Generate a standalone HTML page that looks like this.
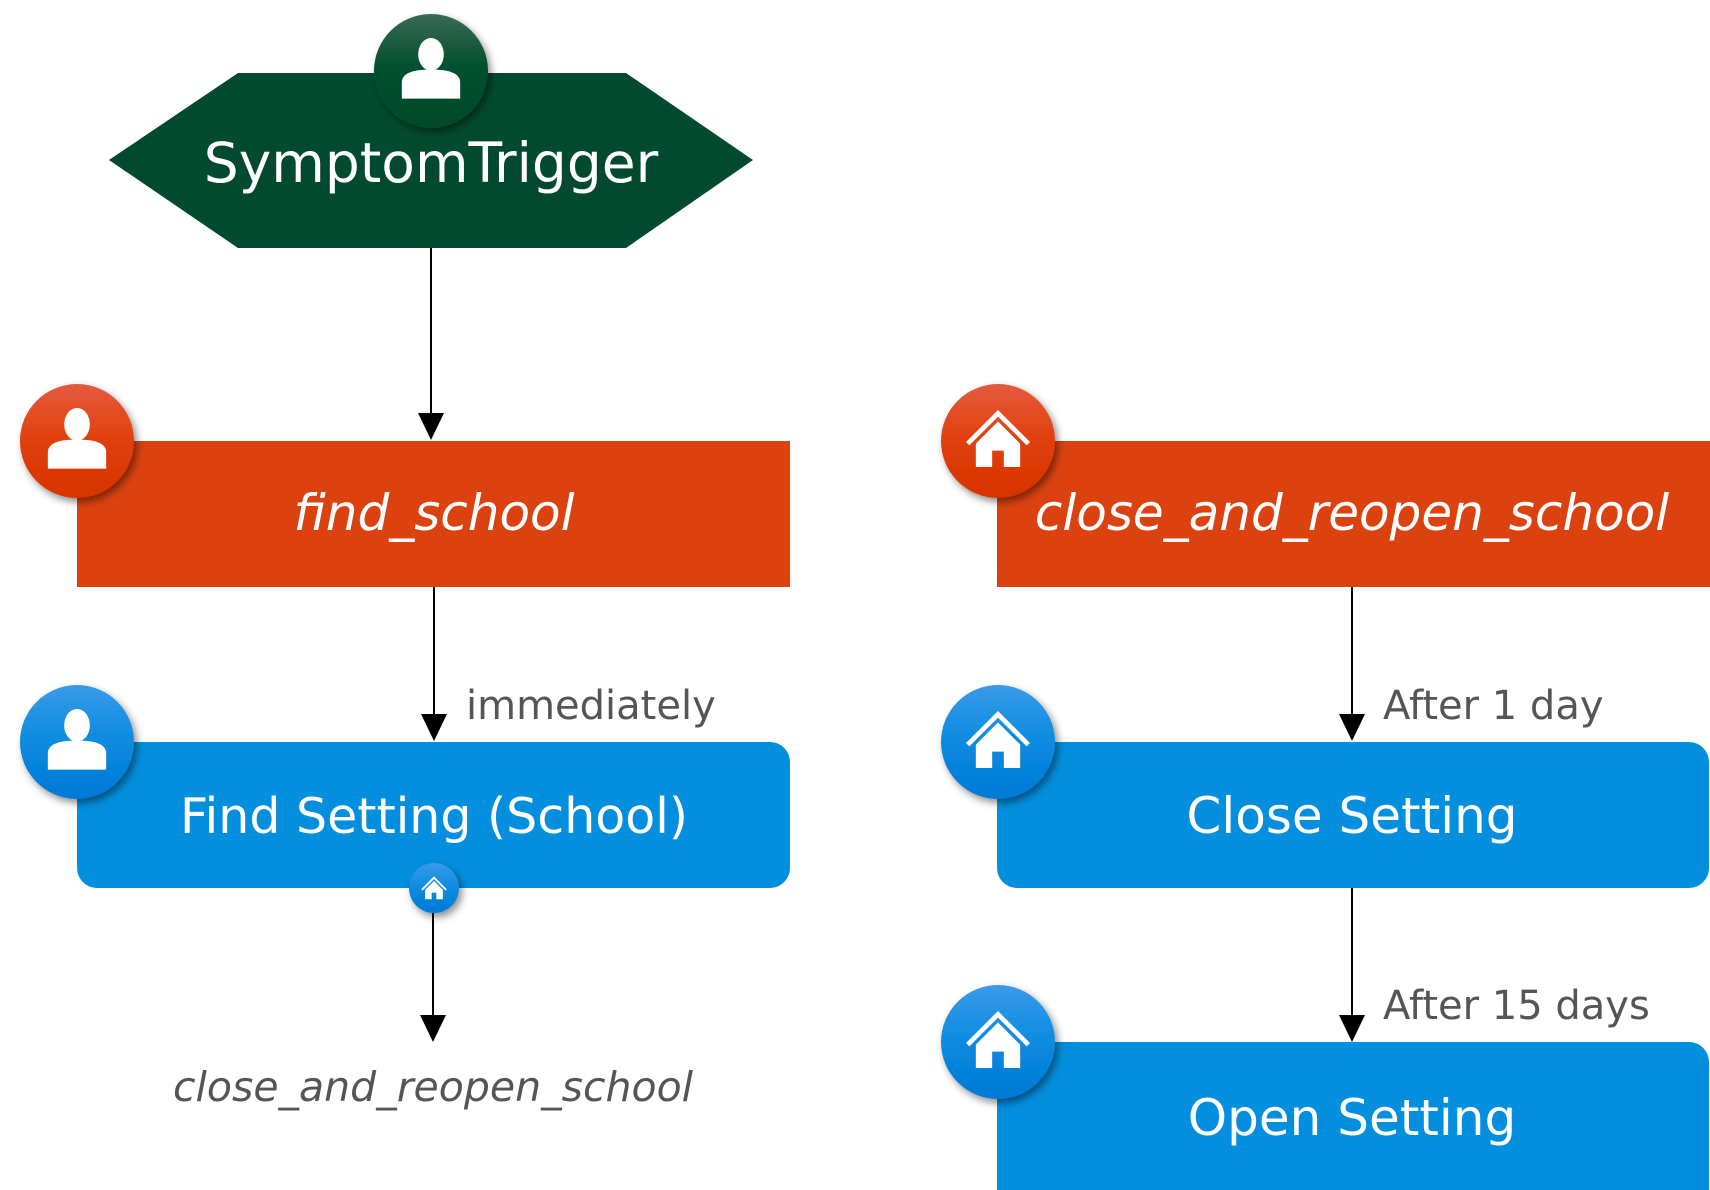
<!DOCTYPE html>
<html><head><meta charset="utf-8"><style>
html,body{margin:0;padding:0;background:#fff;width:1710px;height:1190px;overflow:hidden}
svg{display:block}
text{font-family:"DejaVu Sans","Liberation Sans",sans-serif}
</style></head><body>
<svg width="1710" height="1190" viewBox="0 0 1710 1190" xmlns="http://www.w3.org/2000/svg">
<defs>
<linearGradient id="gG" x1="0" y1="0" x2="0" y2="1"><stop offset="0" stop-color="#3a6a55"/><stop offset="0.45" stop-color="#04502f"/><stop offset="1" stop-color="#024a2b"/></linearGradient>
<linearGradient id="gO" x1="0" y1="0" x2="0" y2="1"><stop offset="0" stop-color="#e65a3e"/><stop offset="0.5" stop-color="#e03f0b"/><stop offset="1" stop-color="#d63300"/></linearGradient>
<linearGradient id="gB" x1="0" y1="0" x2="0" y2="1"><stop offset="0" stop-color="#3a9ae8"/><stop offset="0.5" stop-color="#0a8be0"/><stop offset="1" stop-color="#0079d6"/></linearGradient>
<filter id="sh" x="-30%" y="-30%" width="170%" height="170%"><feDropShadow dx="3" dy="4" stdDeviation="4" flood-color="#000" flood-opacity="0.45"/></filter>
<symbol id="person" viewBox="-30 -30 60 60"><ellipse cx="0" cy="-10" rx="11" ry="14" fill="#fff"/><path d="M-25,28 V14 Q-25,3 0,3 Q25,3 25,14 V28 Z" fill="#fff"/></symbol>
<symbol id="house" viewBox="-30 -30 60 60"><path d="M-26,4 L0,-22 L26,4" fill="none" stroke="#fff" stroke-width="4"/><path d="M-19,4 L0,-15 L19,4 V24 H5 V10 H-5 V24 H-19 Z" fill="#fff"/></symbol>
</defs>

<g stroke="#000" stroke-width="2">
<line x1="431" y1="248" x2="431" y2="415"/>
<line x1="434" y1="587" x2="434" y2="716"/>
<line x1="433" y1="912" x2="433" y2="1017"/>
<line x1="1352" y1="587" x2="1352" y2="716"/>
<line x1="1352" y1="888" x2="1352" y2="1017"/>
</g>
<g fill="#000"><path d="M418,413 L444,413 L431,440 Z"/><path d="M421,714 L447,714 L434,741 Z"/><path d="M420,1015 L446,1015 L433,1042 Z"/><path d="M1339,714 L1365,714 L1352,741 Z"/><path d="M1339,1015 L1365,1015 L1352,1042 Z"/></g>

<polygon points="109,160 238,73 626,73 753,160 626,248 238,248" fill="#024a2f"/>
<text x="431" y="182" font-size="55" fill="#fff" text-anchor="middle">SymptomTrigger</text>

<rect x="77" y="441" width="713" height="146" fill="#dc4210"/>
<text x="434" y="530" font-size="50" font-style="italic" fill="#fff" text-anchor="middle">find_school</text>

<rect x="77" y="742" width="713" height="146" rx="20" fill="#038fde"/>
<text x="434" y="833" font-size="49" fill="#fff" text-anchor="middle">Find Setting (School)</text>

<text x="433" y="1101" font-size="41" font-style="italic" fill="#555" text-anchor="middle">close_and_reopen_school</text>
<text x="466" y="719" font-size="40" fill="#555">immediately</text>

<rect x="997" y="441" width="720" height="146" fill="#dc4210"/>
<text x="1352" y="530" font-size="50" font-style="italic" fill="#fff" text-anchor="middle">close_and_reopen_school</text>
<rect x="997" y="742" width="712" height="146" rx="20" fill="#038fde"/>
<text x="1352" y="833" font-size="50" fill="#fff" text-anchor="middle">Close Setting</text>
<rect x="997" y="1042" width="712" height="170" rx="20" fill="#038fde"/>
<text x="1352" y="1135" font-size="50" fill="#fff" text-anchor="middle">Open Setting</text>
<text x="1383" y="719" font-size="40" fill="#555">After 1 day</text>
<text x="1383" y="1019" font-size="40" fill="#555">After 15 days</text>

<g filter="url(#sh)">
<circle cx="431" cy="71" r="57" fill="url(#gG)"/>
<circle cx="77" cy="441" r="57" fill="url(#gO)"/>
<circle cx="77" cy="742" r="57" fill="url(#gB)"/>
<circle cx="434" cy="888" r="25" fill="url(#gB)"/>
<circle cx="998" cy="441" r="57" fill="url(#gO)"/>
<circle cx="998" cy="742" r="57" fill="url(#gB)"/>
<circle cx="998" cy="1042" r="57" fill="url(#gB)"/>
</g>
<use href="#person" x="396" y="31" width="70" height="70"/>
<use href="#person" x="42" y="401" width="70" height="70"/>
<use href="#person" x="42" y="702" width="70" height="70"/>
<use href="#house" x="420" y="874" width="28" height="28"/>
<use href="#house" x="963" y="404" width="70" height="70"/>
<use href="#house" x="963" y="705" width="70" height="70"/>
<use href="#house" x="963" y="1005" width="70" height="70"/>
</svg>
</body></html>
